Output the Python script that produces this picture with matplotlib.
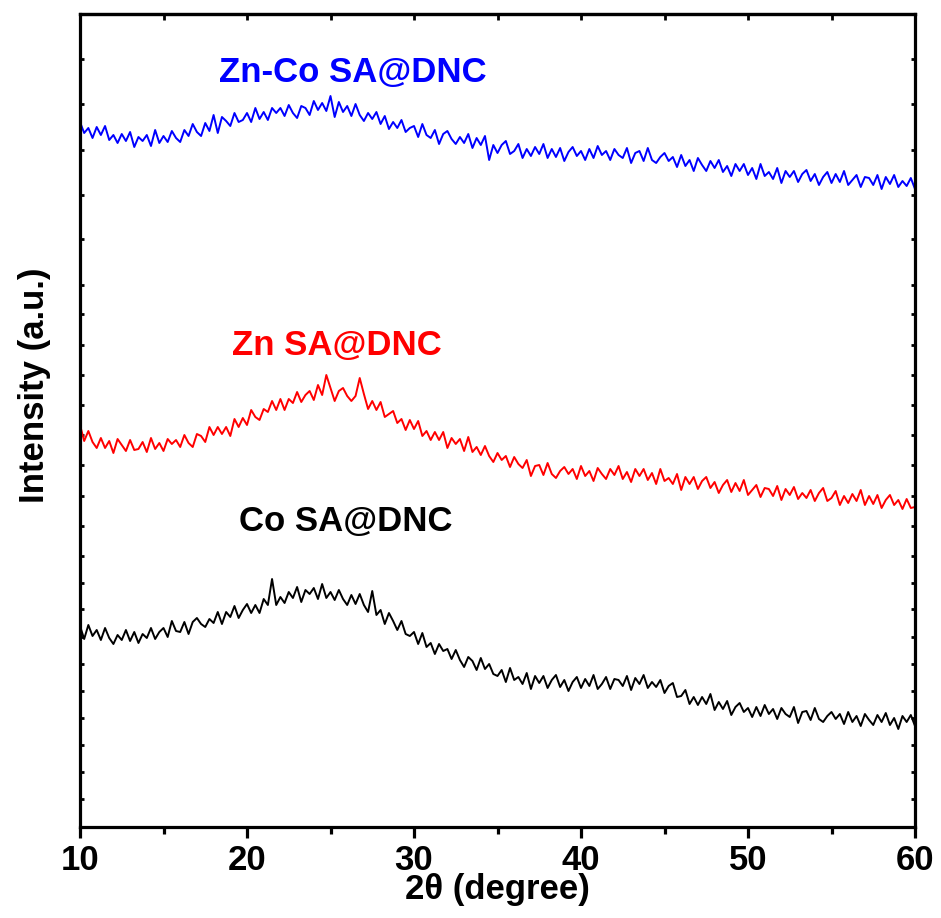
"""XRD patterns of Zn-Co, Zn and Co single-atom catalysts on DNC."""

import matplotlib
matplotlib.use("Agg")
import matplotlib.pyplot as plt
import numpy as np
from matplotlib.ticker import MultipleLocator, FixedLocator

plt.rcParams["font.family"] = ["Liberation Sans", "DejaVu Sans"]
plt.rcParams["font.weight"] = "bold"

# intensities (a.u., stacked), sampled every 0.25 degree from 10 to 60
zn_co = [705, 694, 699, 689, 700, 692, 701, 687, 692, 684, 693, 686,
         695, 680, 690, 686, 692, 681, 697, 684, 691, 685, 696, 689,
         685, 697, 691, 703, 695, 691, 704, 696, 712, 694, 710, 706,
         701, 714, 705, 707, 714, 705, 719, 708, 715, 707, 719, 714,
         719, 711, 722, 714, 709, 721, 719, 712, 726, 717, 724, 716,
         731, 710, 725, 715, 721, 711, 723, 712, 706, 714, 708, 715,
         703, 711, 698, 705, 699, 707, 695, 699, 701, 690, 703, 692,
         689, 697, 683, 693, 696, 688, 683, 690, 684, 693, 679, 689,
         682, 691, 667, 682, 674, 682, 686, 673, 676, 683, 669, 678,
         671, 680, 673, 683, 669, 678, 670, 679, 666, 675, 680, 671,
         676, 667, 678, 669, 681, 672, 676, 667, 678, 672, 669, 679,
         664, 674, 676, 666, 679, 667, 664, 670, 674, 666, 670, 660,
         672, 661, 667, 656, 669, 662, 656, 666, 659, 667, 655, 661,
         651, 663, 656, 663, 652, 659, 648, 663, 651, 655, 648, 659,
         644, 656, 650, 656, 645, 653, 657, 646, 653, 642, 650, 655,
         644, 653, 645, 656, 642, 647, 652, 640, 650, 649, 642, 652,
         638, 650, 643, 652, 640, 646, 641, 649, 638]

zn = [402, 386, 396, 385, 379, 389, 379, 386, 374, 388, 382, 376,
      387, 377, 378, 385, 375, 389, 378, 384, 376, 388, 383, 387,
      380, 392, 384, 380, 393, 391, 385, 400, 392, 400, 393, 400,
      391, 408, 400, 409, 402, 417, 410, 407, 418, 415, 426, 417,
      428, 417, 428, 424, 435, 425, 432, 436, 427, 442, 432, 452,
      439, 426, 436, 439, 431, 426, 431, 449, 433, 418, 426, 417,
      425, 410, 413, 416, 404, 408, 397, 407, 398, 406, 391, 396,
      387, 395, 387, 395, 379, 389, 383, 388, 376, 390, 375, 380,
      372, 381, 371, 365, 374, 367, 371, 360, 370, 363, 359, 367,
      351, 361, 362, 352, 364, 353, 349, 356, 360, 353, 358, 348,
      361, 351, 356, 346, 359, 353, 348, 358, 352, 361, 348, 355,
      345, 358, 351, 358, 347, 354, 343, 358, 346, 349, 343, 353,
      337, 350, 343, 350, 338, 346, 350, 339, 345, 334, 342, 347,
      335, 344, 336, 347, 332, 337, 342, 330, 339, 338, 331, 341,
      327, 338, 332, 340, 328, 334, 329, 337, 326, 334, 339, 326,
      329, 336, 322, 331, 324, 333, 326, 337, 322, 331, 323, 332,
      319, 327, 332, 322, 327, 318, 328, 319, 320]

co = [201, 188, 202, 191, 197, 187, 199, 189, 183, 192, 187, 197,
      186, 195, 184, 193, 189, 199, 188, 195, 199, 190, 206, 196,
      195, 205, 193, 205, 209, 203, 200, 208, 204, 215, 203, 215,
      210, 221, 209, 217, 223, 214, 222, 214, 228, 222, 248, 222,
      230, 224, 235, 229, 240, 225, 237, 233, 239, 228, 243, 229,
      235, 227, 237, 228, 222, 232, 223, 233, 222, 215, 236, 212,
      217, 203, 214, 206, 197, 206, 193, 191, 195, 183, 194, 180,
      184, 173, 183, 176, 178, 168, 177, 167, 160, 170, 166, 157,
      169, 158, 163, 153, 151, 157, 145, 159, 147, 150, 143, 154,
      138, 151, 144, 151, 139, 147, 152, 140, 147, 136, 145, 150,
      139, 148, 141, 152, 138, 143, 150, 138, 148, 147, 141, 151,
      137, 149, 143, 152, 139, 145, 140, 147, 134, 141, 144, 130,
      131, 137, 123, 130, 122, 130, 123, 133, 117, 125, 118, 126,
      112, 120, 124, 115, 119, 110, 120, 111, 122, 113, 118, 108,
      119, 113, 110, 120, 104, 115, 116, 107, 119, 108, 105, 111,
      115, 108, 113, 103, 115, 105, 111, 101, 113, 107, 102, 112,
      105, 114, 102, 109, 98, 111, 105, 112, 101]

series = [("Zn-Co SA@DNC", zn_co, "#0000ff", 18.3, 755),
          ("Zn SA@DNC", zn, "#ff0000", 19.1, 482),
          ("Co SA@DNC", co, "#000000", 19.5, 305)]

y_ticks = [28, 55, 82, 109, 136, 163, 190, 218, 244, 271, 301, 331, 362,
           392, 422, 452, 482, 513, 542, 588, 632, 677, 723, 768]

fig = plt.figure(figsize=(9.41, 9.18), dpi=100)
ax = fig.add_axes([80 / 941, 91 / 918, 835 / 941, 813 / 918])

for name, vals, color, tx, ty in series:
    two_theta = np.linspace(10, 60, len(vals))
    ax.plot(two_theta, vals, color=color, lw=1.4)
    ax.text(tx, ty, name, color=color, fontsize=25, fontweight="bold",
            va="center", ha="left")

ax.set_xlim(10, 60)
ax.set_ylim(0, 813)
ax.xaxis.set_major_locator(MultipleLocator(10))
ax.xaxis.set_minor_locator(MultipleLocator(5))
ax.yaxis.set_major_locator(FixedLocator(y_ticks))
ax.set_yticklabels([])

for side in ax.spines.values():
    side.set_linewidth(2.3)
ax.tick_params(axis="x", which="major", direction="out", length=8, width=2.3,
               labelsize=25, pad=4, top=False)
ax.tick_params(axis="x", which="minor", direction="out", length=5, width=2.3,
               top=False)
ax.tick_params(axis="y", which="major", direction="in", length=3, width=2,
               left=True, right=True)
for lab in ax.get_xticklabels():
    lab.set_fontweight("bold")

# inward ticks along the top spine
top = ax.secondary_xaxis("top")
top.xaxis.set_major_locator(MultipleLocator(5))
top.tick_params(direction="in", length=4, width=2, labeltop=False)
top.spines["top"].set_linewidth(2.3)

ax.set_xlabel("2θ (degree)", fontsize=25, fontweight="bold", labelpad=-3)
fig.text(35 / 941, 1 - 385 / 918, "Intensity (a.u.)", rotation=90,
         fontsize=25, fontweight="bold", ha="center", va="center")

fig.savefig("out.png", dpi=100)
